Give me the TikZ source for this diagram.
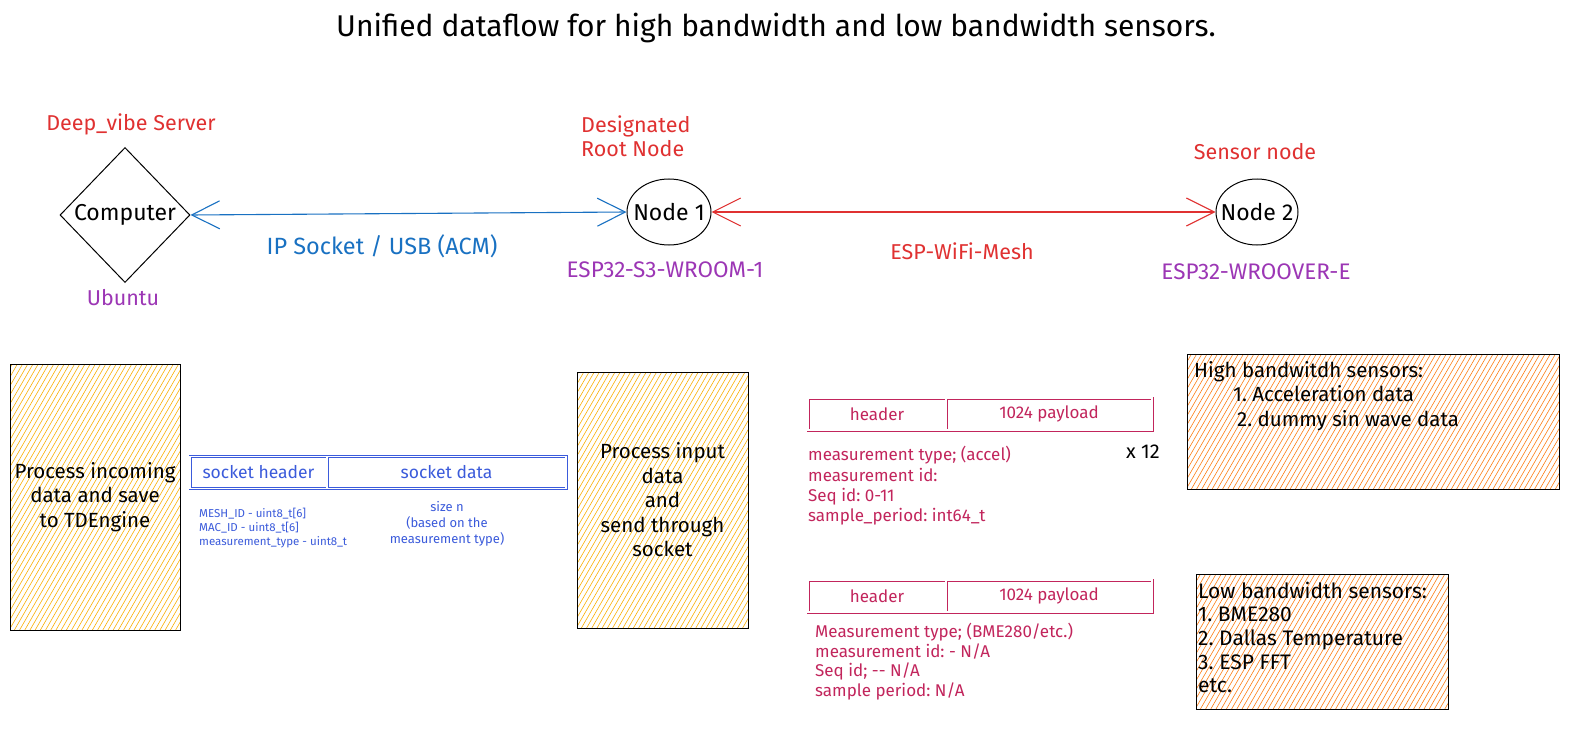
\documentclass[tikz,border=0pt]{standalone}
\usepackage{fontspec}
\setmainfont{Fira Sans}
\frenchspacing
\usetikzlibrary{shapes.geometric,arrows.meta}
\definecolor{cred}{HTML}{E03131}
\definecolor{cpurple}{HTML}{9C36B5}
\definecolor{cblue}{HTML}{1971C2}
\definecolor{cindigo}{HTML}{3B5BDB}
\definecolor{ccrimson}{HTML}{C2255C}
\definecolor{cyellow}{HTML}{FAB005}
\definecolor{corange}{HTML}{FD7E14}
\begin{document}
\begin{tikzpicture}[x=1pt,y=-1pt,
  lbl/.style={font=\fontsize{21.5}{24}\selectfont, inner sep=0pt},
  big/.style={font=\fontsize{23}{26}\selectfont, inner sep=0pt},
  link/.style={line width=1.1pt, {Straight Barb[length=28pt,width=28pt]}-{Straight Barb[length=28pt,width=28pt]}},
  hatched/.style={path picture={
    \foreach \k in {0,...,125}
      \draw[#1, line width=0.6pt]
        ([xshift={-214pt+5.2pt*\k}]path picture bounding box.south west) -- ++(214,-370);}},
  hbox/.style={draw, line width=1pt, inner sep=0pt, align=center},
  ybox/.style={hbox, hatched=cyellow, font=\fontsize{20.5}{24.5}\selectfont},
  obox/.style={hbox, hatched=corange},
  seg/.style={draw, line width=0.7pt, double=white, double distance=1.6pt, inner sep=0pt,
    minimum height=32pt},
  blueseg/.style={seg, draw=cindigo, text=cindigo, font=\fontsize{17.5}{20}\selectfont},
  redseg/.style={seg, draw=ccrimson, text=ccrimson, font=\fontsize{17}{20}\selectfont},
  note/.style={inner sep=0pt, align=left, anchor=west},
]
\fill[white] (0,0) rectangle (1572,733);
\useasboundingbox (0,0) rectangle (1572,733);

% title
\node[font=\fontsize{30}{34}\selectfont, inner sep=0pt] (title) at (776,28)
  {Unified dataflow for high bandwidth and low bandwidth sensors.};

% top row
\node[lbl, text=cred] (dvs) at (131,124) {Deep\_vibe Server};
\node[diamond, draw, line width=1pt, minimum width=130pt, minimum height=135pt, inner sep=0pt,
  label={[big]center:Computer}] (comp) at (125,215) {};
\node[lbl, text=cpurple] (ubu) at (123,298) {Ubuntu};

\node[lbl, text=cred, align=left, anchor=west] (drn) at (581,136) {Designated\\Root Node};
\node[ellipse, draw, line width=1pt, minimum width=84pt, minimum height=66pt, inner sep=0pt,
  label={[big]center:Node 1}] (n1) at (669,212) {};
\node[lbl, text=cpurple, font=\fontsize{22.5}{26}\selectfont] (esp1) at (665,270) {ESP32-S3-WROOM-1};

\node[lbl, text=cred] (sn) at (1255,152) {Sensor node};
\node[ellipse, draw, line width=1pt, minimum width=82pt, minimum height=66pt, inner sep=0pt,
  label={[big]center:Node 2}] (n2) at (1257,212) {};
\node[lbl, text=cpurple, font=\fontsize{22.5}{26}\selectfont] (esp2) at (1256,272) {ESP32-WROOVER-E};

\draw[link, cblue] (comp.east) -- (n1.west);
\node[lbl, text=cblue, font=\fontsize{23.5}{26}\selectfont] (ipl) at (382,246) {IP Socket / USB (ACM)};
\draw[link, cred] (n1.east) -- (n2.west);
\node[lbl, text=cred] (meshl) at (962,251) {ESP-WiFi-Mesh};

% process boxes
\node[ybox, minimum width=170pt, minimum height=266pt] (p1) at (95,497)
  {Process incoming\\data and save\\to TDEngine};
\node[ybox, minimum width=171pt, minimum height=256pt] (p2) at (662.5,500)
  {Process input\\data\\and\\send through\\socket};

% socket packet
\node[blueseg, minimum width=137pt] (sh) at (258.5,472.5) {socket header};
\node[blueseg, minimum width=239pt] (sd) at (446.5,472.5) {socket data};
\node[note, text=cindigo, font=\fontsize{11.5}{14}\selectfont] (ids) at (199,528)
  {MESH\_ID - uint8\_t[6]\\MAC\_ID - uint8\_t[6]\\measurement\_type - uint8\_t};
\node[inner sep=0pt, align=center, text=cindigo, font=\fontsize{13}{16}\selectfont] (sizen) at (447,524)
  {size n\\(based on the\\measurement type)};

% high bandwidth packet
\node[redseg, minimum width=138pt] (h1) at (877,414) {header};
\node[redseg, minimum width=206pt] (pl1) at (1049,414) {1024 payload};
\node[note, text=ccrimson, font=\fontsize{17}{20.3}\selectfont] (hdesc) at (808,486)
  {measurement type; (accel)\\measurement id:\\Seq id: 0-11\\sample\_period: int64\_t};
\node[inner sep=0pt, font=\fontsize{20}{22}\selectfont] (x12) at (1143,452) {x 12};

% low bandwidth packet
\node[redseg, minimum width=138pt] (h2) at (877,596) {header};
\node[redseg, minimum width=206pt] (pl2) at (1049,596) {1024 payload};
\node[note, text=ccrimson, font=\fontsize{17}{19.7}\selectfont] (ldesc) at (815,661.5)
  {Measurement type; (BME280/etc.)\\measurement id: - N/A\\Seq id; {-}{-} N/A\\sample period: N/A};

% sensor lists
\node[obox, minimum width=372pt, minimum height=135pt] (hb) at (1373,421.5) {};
\node[note, font=\fontsize{20.5}{24.5}\selectfont] (hbt) at (1194,396)
  {High bandwitdh sensors:\\\hspace*{39pt}1. Acceleration data\\\hspace*{43pt}2. dummy sin wave data};
\node[obox, minimum width=252pt, minimum height=135pt] (lb) at (1322,641.5) {};
\node[note, font=\fontsize{21}{23.7}\selectfont] (lbt) at (1198,637.5)
  {Low bandwidth sensors:\\1. BME280\\2. Dallas Temperature\\3. ESP FFT\\etc.};
\end{tikzpicture}
\end{document}
